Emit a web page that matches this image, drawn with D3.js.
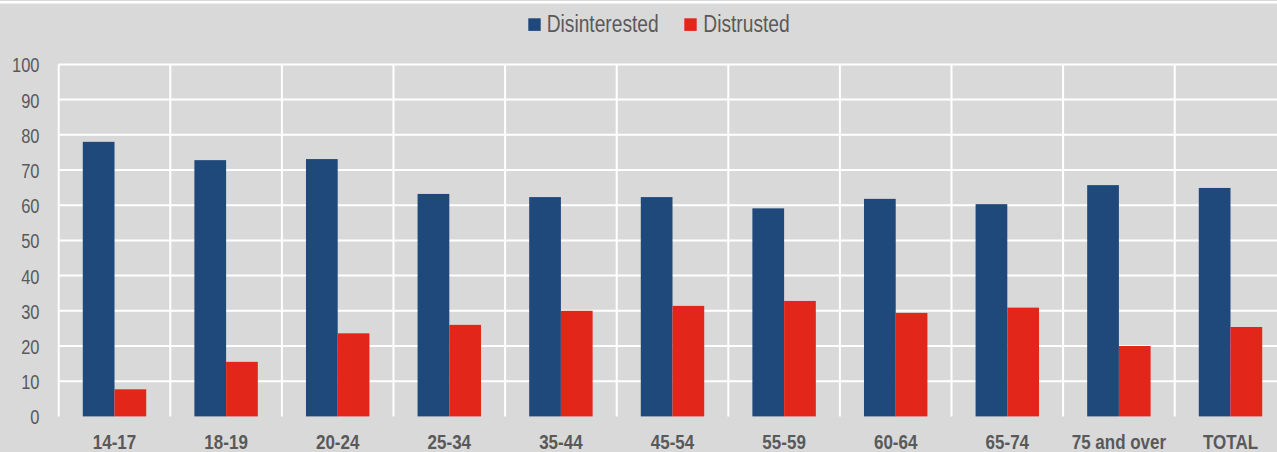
<!DOCTYPE html>
<html>
<head>
<meta charset="utf-8">
<script src="https://cdn.jsdelivr.net/npm/d3@7"></script>
<style>
  html, body { margin: 0; padding: 0; background: #d9d9d9; overflow: hidden; }
  svg { display: block; }
  text { font-family: "Liberation Sans", Arial, sans-serif; fill: #595959; }
</style>
</head>
<body>
<svg id="chart" width="1277" height="452"></svg>
<script>
const categories = ["14-17", "18-19", "20-24", "25-34", "35-44", "45-54", "55-59", "60-64", "65-74", "75 and over", "TOTAL"];
const seriesNames = ["Disinterested", "Distrusted"];
const disinterested = [78.0, 72.8, 73.1, 63.2, 62.3, 62.3, 59.1, 61.8, 60.3, 65.7, 64.9];
const distrusted = [7.7, 15.5, 23.6, 26.0, 30.0, 31.4, 32.8, 29.4, 30.9, 20.0, 25.4];
const yTicks = [0, 10, 20, 30, 40, 50, 60, 70, 80, 90, 100];
const colors = ["#1f487b", "#e3261a"];

const W = 1277, H = 452;
const margin = { left: 58.7, top: 64.4, bottom: 452 - 416.4 };
const plotRight = 58.7 + 11 * 111.6;

const svg = d3.select("#chart");
svg.append("rect").attr("x", 0).attr("y", 0).attr("width", W).attr("height", H).attr("fill", "#d9d9d9");
svg.append("rect").attr("x", 0).attr("y", 1).attr("width", W).attr("height", 2.5).attr("fill", "#ffffff");

const x0 = d3.scaleBand().domain(categories).range([margin.left, plotRight]).paddingInner(0).paddingOuter(0);
const bw = x0.bandwidth();
const x1 = d3.scaleBand().domain(seriesNames).range([bw * 0.2158, bw * 0.7842]).padding(0);
const y = d3.scaleLinear().domain([0, 100]).range([416.4, 64.4]);

// horizontal gridlines
svg.append("g").selectAll("line").data(yTicks.filter(t => t > 0)).join("line")
  .attr("x1", margin.left).attr("x2", W + 20)
  .attr("y1", d => y(d)).attr("y2", d => y(d))
  .attr("stroke", "#ffffff").attr("stroke-width", 2);

// vertical gridlines at band boundaries
svg.append("g").selectAll("line").data(categories).join("line")
  .attr("x1", d => x0(d)).attr("x2", d => x0(d))
  .attr("y1", y(100)).attr("y2", y(0))
  .attr("stroke", "#ffffff").attr("stroke-width", 2);

// bars
const rows = categories.map((c, i) => ({ cat: c, vals: [disinterested[i], distrusted[i]] }));
const groups = svg.append("g").selectAll("g").data(rows).join("g")
  .attr("transform", d => `translate(${x0(d.cat)},0)`);
groups.selectAll("rect").data(d => d.vals.map((v, j) => ({ s: seriesNames[j], v, j }))).join("rect")
  .attr("x", d => x1(d.s)).attr("width", x1.bandwidth())
  .attr("y", d => y(d.v)).attr("height", d => y(0) - y(d.v))
  .attr("fill", d => colors[d.j]);

// y tick labels
svg.append("g").selectAll("text").data(yTicks).join("text")
  .attr("transform", d => `translate(39.5,${y(d) + 8}) scale(1,1.2)`)
  .attr("text-anchor", "end")
  .style("font-size", "16.5px")
  .text(d => d);

// x labels
svg.append("g").selectAll("text").data(categories).join("text")
  .attr("transform", d => `translate(${x0(d) + bw / 2},449) scale(1,1.22)`)
  .attr("text-anchor", "middle")
  .style("font-size", "17px").style("font-weight", "bold")
  .text(d => d);

// legend
const legendItems = [
  { name: seriesNames[0], color: colors[0], sx: 528.3, tx: 546.7 },
  { name: seriesNames[1], color: colors[1], sx: 684.3, tx: 703.3 }
];
const lg = svg.append("g");
lg.selectAll("rect").data(legendItems).join("rect")
  .attr("x", d => d.sx).attr("y", 18.3).attr("width", 12.4).attr("height", 12.6)
  .attr("fill", d => d.color);
lg.selectAll("text").data(legendItems).join("text")
  .attr("transform", d => `translate(${d.tx},32.3) scale(1,1.22)`)
  .style("font-size", "19.2px")
  .text(d => d.name);
</script>
</body>
</html>
